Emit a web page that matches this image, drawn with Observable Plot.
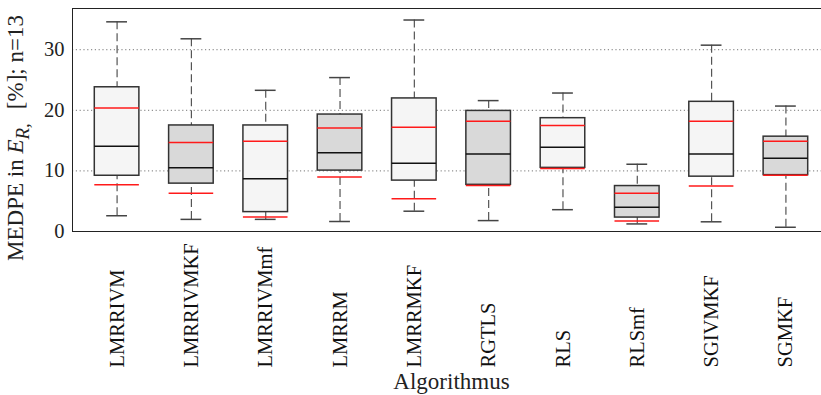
<!DOCTYPE html>
<html>
<head>
<meta charset="utf-8">
<script src="https://cdn.jsdelivr.net/npm/d3@7"></script>
<script src="https://cdn.jsdelivr.net/npm/@observablehq/plot@0.6"></script>
<style>
  html, body { margin: 0; padding: 0; background: #fff; overflow: hidden; }
</style>
</head>
<body>
<div id="chart"></div>
<script>
const algorithms = ["LMRRIVM", "LMRRIVMKF", "LMRRIVMmf", "LMRRM", "LMRRMKF", "RGTLS", "RLS", "RLSmf", "SGIVMKF", "SGMKF"];
const upperWhisker = [34.6, 31.8, 23.3, 25.4, 34.9, 21.6, 22.85, 11.1, 30.75, 20.7];
const q3 = [23.8, 17.5, 17.5, 19.3, 21.96, 19.9, 18.7, 7.5, 21.4, 15.65];
const redUpper = [20.4, 14.7, 14.9, 17.1, 17.2, 18.2, 17.5, 6.3, 18.2, 14.9];
const median = [14.05, 10.5, 8.7, 13.0, 11.25, 12.8, 13.9, 4.0, 12.8, 12.1];
const q1 = [9.2, 7.9, 3.2, 10.05, 8.4, 7.7, 10.5, 2.3, 9.05, 9.3];
const redLower = [7.7, 6.3, 2.4, 9.0, 5.4, 7.6, 10.4, 1.75, 7.5, 9.3];
const lowerWhisker = [2.6, 2.0, 2.0, 1.65, 3.35, 1.8, 3.6, 1.25, 1.6, 0.7];
const yTicks = [0, 10, 20, 30];
const xLabel = "Algorithmus";

const data = algorithms.map((name, i) => ({
  i, name,
  hi: upperWhisker[i], q3: q3[i], rU: redUpper[i], med: median[i],
  q1: q1[i], rL: redLower[i], lo: lowerWhisker[i]
}));

const serif = "'Liberation Serif', 'Times New Roman', serif";
const boxHalf = 0.3, capHalf = 0.14;

const chart = Plot.plot({
  width: 832,
  height: 395,
  marginLeft: 72,
  marginRight: 2,
  marginTop: 8,
  marginBottom: 164,
  style: { fontFamily: serif, fontSize: "20.5px", maxWidth: "none", background: "#fff", overflow: "visible" },
  x: { type: "linear", domain: [-0.6, 9.6], axis: null },
  y: { domain: [0, 36.8], axis: null },
  marks: [
    Plot.ruleY(yTicks.filter(d => d > 0), { stroke: "#777", strokeWidth: 1, strokeDasharray: "1.2,2.6" }),
    Plot.axisY(yTicks, { tickSize: 0, tickPadding: 8, fontSize: 20.5, label: null, fill: "#222" }),
    Plot.ruleX(data, { x: "i", y1: "hi", y2: "q3", stroke: "#555", strokeWidth: 1.2, strokeDasharray: "8,4" }),
    Plot.ruleX(data, { x: "i", y1: "lo", y2: "q1", stroke: "#555", strokeWidth: 1.2, strokeDasharray: "8,4" }),
    Plot.ruleY(data, { y: "hi", x1: d => d.i - capHalf, x2: d => d.i + capHalf, stroke: "#444", strokeWidth: 1.5 }),
    Plot.ruleY(data, { y: "lo", x1: d => d.i - capHalf, x2: d => d.i + capHalf, stroke: "#444", strokeWidth: 1.5 }),
    Plot.rect(data, {
      x1: d => d.i - boxHalf, x2: d => d.i + boxHalf, y1: "q1", y2: "q3",
      fill: d => d.i % 2 === 0 ? "#f5f5f5" : "#d9d9d9", stroke: "#333", strokeWidth: 1.5
    }),
    Plot.ruleY(data, { y: "med", x1: d => d.i - boxHalf, x2: d => d.i + boxHalf, stroke: "#111", strokeWidth: 1.5 }),
    Plot.ruleY(data, { y: "rU", x1: d => d.i - boxHalf, x2: d => d.i + boxHalf, stroke: "#ff1a1a", strokeWidth: 1.5 }),
    Plot.ruleY(data, { y: "rL", x1: d => d.i - boxHalf, x2: d => d.i + boxHalf, stroke: "#ff1a1a", strokeWidth: 1.5 }),
    Plot.frame({ stroke: "#222", strokeWidth: 1 }),
    Plot.text(data, {
      x: "i", text: "name", frameAnchor: "bottom", dy: 136, rotate: -90,
      textAnchor: "start", lineAnchor: "middle", fontSize: 20.5, fill: "#111"
    }),
    Plot.text([xLabel], { text: d => d, frameAnchor: "bottom", lineAnchor: "middle", dy: 150.6, fontSize: 23, fill: "#222" })
  ]
});

// y-axis title with italic E and subscript R
const svg = d3.select(chart);
const t = svg.append("text")
  .attr("transform", "translate(16,138) rotate(-90)")
  .attr("text-anchor", "middle")
  .attr("dy", "0.32em")
  .attr("font-size", 23)
  .attr("font-family", serif)
  .attr("fill", "#222")
  .attr("xml:space", "preserve");
t.append("tspan").text("MEDPE in ");
t.append("tspan").attr("font-style", "italic").text("E");
t.append("tspan").attr("font-style", "italic").attr("font-size", 19).attr("dy", "0.3em").text("R,");
t.append("tspan").attr("dy", "-0.25em").attr("dx", 14).text("[%]; n=13");

document.getElementById("chart").appendChild(chart);
</script>
</body>
</html>
